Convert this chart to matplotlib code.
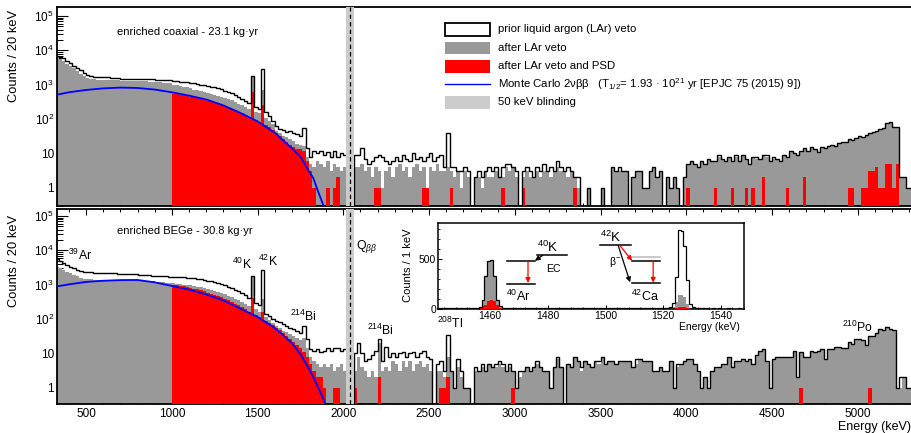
import numpy as np
import matplotlib
matplotlib.use("Agg")
import matplotlib.pyplot as plt
from matplotlib.patches import Rectangle
from matplotlib.lines import Line2D
from matplotlib.ticker import MultipleLocator, LogLocator, FixedLocator, FuncFormatter, NullFormatter

plt.rcParams['font.family'] = ['Liberation Sans', 'DejaVu Sans']
plt.rcParams['mathtext.fontset'] = 'custom'
plt.rcParams['mathtext.rm'] = 'Liberation Sans'
plt.rcParams['mathtext.it'] = 'Liberation Sans:italic'
plt.rcParams['mathtext.bf'] = 'Liberation Sans:bold'

# ---------------- data (20 keV bins, edges 320 ... 5340 keV) ----------------
E_FIRST, E_LAST, BIN_W = 320, 5340, 20
BLIND_LO, BLIND_HI, Q_BB = 2014, 2064, 2039

# --- enriched coaxial ---
coax_prior_lo = [7000, 6500, 5800, 5000, 4300, 3600, 3000, 2600, 2200, 1900,
                 1750, 1700, 1700, 1700, 1680, 1650, 1600, 1550, 1520, 1500,
                 1500, 1500, 1490, 1480, 1480, 1470, 1450, 1430, 1420, 1410,
                 1400, 1400, 1390, 1380]
coax_prior_mid = [1260, 1240, 1220, 1200, 1170, 1140, 1100, 1060, 1010, 960,
                  920, 880, 830, 780, 730, 670, 610, 560, 500, 440,
                  390, 340, 290, 1800, 230, 195, 2880, 160, 120, 90,
                  62, 52, 48, 42, 45, 38, 36, 31, 56, 14,
                  8, 12, 10, 12, 9, 11, 8, 12, 8, 10,
                  9]
coax_prior_hi = [9, 9, 14, 7, 5, 6, 8, 9, 8, 6,
                 5, 6, 8, 6, 9, 7, 6, 10, 7, 8,
                 6, 8, 10, 6, 8, 9, 4, 38, 4, 4,
                 3, 3, 4, 3, 0, 2, 3, 2, 3, 4,
                 3, 4, 2, 4, 5, 5, 4, 3, 0, 3,
                 4, 3, 2, 4, 3, 5, 3, 4, 3, 6,
                 4, 3, 4, 3, 2, 2, 0, 0, 1, 0,
                 0, 0, 1, 0, 0, 4, 3, 4, 3, 3,
                 0, 2, 3, 3, 1, 1, 3, 4, 2, 3,
                 0, 2, 1, 2, 1, 0, 2, 5, 6, 5,
                 4, 6, 5, 7, 6, 6, 9, 7, 6, 8,
                 6, 9, 6, 9, 7, 5, 8, 8, 7, 9,
                 9, 6, 8, 7, 6, 9, 8, 12, 10, 9,
                 12, 14, 12, 15, 13, 11, 15, 14, 16, 18,
                 16, 20, 22, 21, 27, 25, 28, 32, 30, 35,
                 40, 42, 46, 50, 54, 78, 80, 57, 57, 2,
                 2, 1, 1, 1]
coax_lar_lo = [6500, 5600, 4800, 4100, 3500, 3000, 2500, 2100, 1800, 1600,
               1480, 1430, 1400, 1380, 1370, 1360, 1350, 1340, 1330, 1320,
               1310, 1300, 1290, 1280, 1270, 1260, 1250, 1230, 1210, 1190,
               1170, 1150, 1120, 1100]
coax_lar_mid = [1000, 960, 920, 880, 840, 790, 720, 680, 640, 600,
                570, 540, 510, 480, 450, 420, 390, 350, 310, 280,
                250, 225, 200, 1800, 160, 150, 706, 110, 90, 72,
                45, 40, 33, 30, 26, 23, 19, 17, 16, 8,
                5, 4, 6, 5, 4, 6, 3, 5, 4, 3,
                4]
coax_lar_hi = [4, 4, 5, 3, 4, 2, 4, 3, 1, 3,
               4, 2, 4, 5, 3, 4, 2, 4, 5, 3,
               4, 1, 4, 3, 5, 3, 3, 4, 3, 2,
               3, 1, 3, 2, 0, 2, 2, 1, 3, 2,
               2, 3, 2, 2, 4, 3, 4, 2, 0, 2,
               3, 2, 2, 3, 2, 3, 3, 2, 3, 4,
               3, 3, 2, 3, 2, 1, 0, 0, 1, 0,
               0, 0, 1, 0, 0, 4, 3, 3, 3, 3,
               0, 2, 3, 3, 1, 1, 3, 4, 2, 3,
               0, 2, 1, 2, 1, 0, 2, 5, 6, 5,
               4, 6, 5, 7, 6, 6, 8, 7, 6, 8,
               6, 8, 6, 9, 7, 5, 8, 7, 7, 9,
               8, 6, 7, 7, 6, 9, 8, 11, 10, 9,
               12, 14, 12, 15, 13, 10, 15, 13, 16, 18,
               16, 20, 22, 21, 27, 25, 28, 32, 30, 35,
               40, 42, 46, 50, 54, 78, 80, 57, 57, 2,
               2, 1, 1, 1]
coax_psd_mid = [540, 530, 510, 490, 470, 450, 430, 410, 385, 360,
                345, 320, 300, 280, 260, 240, 215, 195, 180, 160,
                145, 128, 115, 600, 95, 82, 256, 68, 58, 48,
                38, 32, 27, 22, 18, 15, 13, 13, 12, 6,
                3, 1, 0, 0, 0, 1, 0, 1, 2, 0,
                0]
coax_psd_hi = {2180: 1, 2200: 1, 2460: 1, 2480: 1, 2620: 1, 2920: 1, 3040: 1,
               3340: 1, 4000: 1, 4160: 1, 4260: 1, 4340: 1, 4380: 1, 4440: 2,
               4580: 1, 4680: 2, 4940: 1, 4960: 1, 5020: 1, 5040: 1, 5060: 3,
               5080: 3, 5100: 4, 5120: 1, 5140: 1, 5160: 5, 5180: 5, 5200: 1,
               5220: 5}

# --- enriched BEGe ---
bege_prior_lo = [5500, 5000, 4400, 3800, 3300, 3000, 2750, 2550, 2400, 2350,
                 2300, 2250, 2200, 2200, 2180, 2220, 2220, 2150, 2100, 2080,
                 2050, 2020, 2000, 1980, 1960, 1930, 1900, 1870, 1840, 1810,
                 1790, 1760, 1740, 1720]
bege_prior_mid = [1700, 1680, 1650, 1620, 1590, 1560, 1520, 1480, 1430, 1380,
                  1320, 1260, 1200, 1120, 1040, 960, 880, 800, 720, 640,
                  560, 490, 420, 1800, 290, 260, 2650, 140, 120, 100,
                  88, 80, 70, 62, 55, 50, 45, 40, 63, 26,
                  13, 12, 13, 11, 12, 14, 12, 14, 14, 12,
                  13]
bege_prior_hi = [10, 20, 10, 6, 7, 9, 12, 26, 6, 15,
                 8, 10, 8, 10, 11, 8, 10, 11, 8, 10,
                 12, 8, 7, 0, 5, 6, 3, 35, 3, 1,
                 7, 3, 1, 1, 0, 4, 3, 5, 3, 5,
                 4, 5, 6, 5, 3, 5, 3, 1, 3, 3,
                 4, 3, 4, 6, 4, 3, 3, 1, 4, 8,
                 4, 0, 5, 4, 8, 6, 4, 6, 5, 4,
                 6, 6, 8, 5, 6, 6, 5, 6,
                 6, 6, 6, 4, 7, 7, 6, 6, 6, 3,
                 3, 4, 3, 3, 6, 1, 5, 5, 6, 7,
                 7, 5, 3, 1, 2, 1, 3, 4, 4, 5,
                 5, 8, 4, 6, 6, 7, 6, 7, 5, 9,
                 12, 13, 6, 1, 7, 8, 8, 8, 8, 8,
                 12, 2, 11, 8, 8, 12, 11, 12, 13, 7,
                 13, 13, 15, 15, 14, 14, 21, 19, 27, 26,
                 25, 18, 32, 32, 40, 50, 48, 60, 52, 48,
                 1, 2, 2, 1, 1, 1]
bege_lar_lo = [3300, 3000, 2700, 2400, 2150, 1950, 1750, 1600, 1500, 1450,
               1420, 1400, 1390, 1390, 1390, 1400, 1400, 1400, 1400, 1400,
               1400, 1390, 1380, 1370, 1360, 1340, 1320, 1290, 1260, 1230,
               1200, 1170, 1140, 1110]
bege_lar_mid = [1100, 1070, 1040, 1010, 980, 950, 910, 870, 830, 790,
                750, 700, 660, 610, 570, 520, 480, 430, 390, 350,
                310, 270, 240, 1800, 190, 165, 380, 112, 92, 78,
                64, 54, 46, 41, 36, 32, 28, 25, 28, 14,
                8, 6, 5, 4, 5, 4, 5, 3, 4, 5,
                3]
bege_lar_hi = [3, 8, 4, 3, 2, 3, 2, 20, 3, 4,
               3, 6, 5, 3, 6, 4, 6, 3, 5, 6,
               4, 5, 3, 0, 3, 3, 2, 8, 3, 1,
               4, 2, 1, 1, 0, 3, 3, 4, 3, 5,
               4, 4, 5, 4, 3, 4, 3, 1, 2, 3,
               4, 3, 4, 5, 4, 3, 3, 1, 4, 7,
               4, 0, 5, 4, 8, 6, 3, 6, 5, 4,
               6, 5, 8, 5, 6, 6, 5, 6,
               6, 6, 6, 4, 5, 7, 6, 6, 6, 3,
               3, 4, 3, 3, 6, 1, 4, 5, 6, 7,
               7, 5, 3, 1, 2, 1, 3, 4, 4, 5,
               5, 8, 4, 6, 6, 7, 6, 7, 5, 9,
               12, 13, 6, 1, 7, 8, 8, 8, 8, 8,
               11, 2, 11, 8, 8, 12, 11, 12, 13, 7,
               13, 13, 15, 15, 14, 14, 21, 19, 27, 26,
               25, 18, 32, 32, 40, 50, 48, 60, 52, 48,
               1, 1, 2, 1, 1, 1]
bege_psd_mid = [980, 950, 920, 890, 850, 810, 770, 730, 690, 640,
                590, 550, 510, 470, 430, 390, 350, 315, 280, 250,
                220, 190, 165, 404, 130, 115, 155, 90, 78, 66,
                56, 47, 39, 33, 27, 22, 18, 14, 11, 8,
                5, 3, 2, 2, 1, 0, 0, 1, 1, 0,
                0]
bege_psd_hi = {2060: 1, 2200: 2, 2560: 1, 2580: 1, 2600: 2, 2980: 1, 4660: 1, 5060: 1}

# --- Monte Carlo 2nbb curves (read points) ---
mc_energy = [330, 400, 500, 600, 700, 800, 900, 1000, 1100, 1200, 1300, 1400,
             1500, 1600, 1700, 1750, 1800, 1825, 1850, 1875, 1900]
mc_coax = [510, 600, 700, 780, 820, 800, 720, 600, 480, 370, 250, 150,
           85, 40, 14, 8, 3.0, 1.9, 0.85, 0.4, 0.2]
mc_bege = [890, 1020, 1200, 1300, 1360, 1370, 1170, 920, 720, 520, 350, 200,
           115, 55, 20, 9.5, 3.5, 2.0, 1.1, 0.6, 0.3]

# --- inset: 1 keV bins from 1442 keV ---
inset_first = 1442
inset_prior = [12, 11, 13, 12, 12, 11, 13, 12, 14, 12,
               13, 12, 14, 15, 20, 95, 330, 475, 490, 330,
               95, 28, 14, 12, 13, 12, 11, 12, 12, 11,
               12, 11, 10, 11, 12, 10, 11, 10, 11, 10,
               10, 11, 10, 9, 10, 10, 9, 10, 9, 10,
               9, 9, 10, 9, 9, 8, 9, 9, 8, 9,
               9, 8, 9, 8, 8, 9, 8, 8, 9, 8,
               8, 8, 9, 8, 8, 9, 9, 10, 12, 15,
               25, 60, 320, 790, 775, 630, 290, 55, 20, 10,
               9, 8, 8, 8, 7, 8, 7, 8, 7, 7,
               8, 7, 7, 7, 8, 7]
inset_lar = [9, 8, 10, 9, 9, 8, 10, 9, 10, 9,
             10, 9, 10, 11, 15, 89, 321, 470, 480, 321,
             89, 23, 10, 9, 9, 9, 8, 9, 9, 8,
             8, 8, 7, 8, 8, 7, 8, 7, 8, 7,
             7, 8, 7, 6, 7, 7, 6, 7, 6, 7,
             6, 6, 7, 6, 6, 5, 6, 6, 5, 6,
             6, 5, 6, 5, 5, 6, 5, 5, 6, 5,
             5, 5, 6, 5, 5, 6, 6, 6, 7, 8,
             10, 20, 70, 140, 140, 120, 50, 15, 8, 6,
             5, 5, 5, 5, 4, 5, 4, 5, 4, 4,
             5, 4, 4, 4, 5, 4]
inset_psd = [6, 5, 6, 6, 5, 6, 6, 5, 6, 6,
             6, 5, 6, 8, 15, 30, 40, 85, 95, 80,
             40, 15, 6, 5, 6, 5, 5, 6, 5, 5,
             5, 5, 4, 5, 5, 4, 5, 4, 5, 4,
             4, 5, 4, 4, 4, 4, 4, 4, 3, 4,
             4, 3, 4, 3, 3, 3, 4, 3, 3, 3,
             3, 3, 3, 3, 3, 3, 3, 3, 3, 3,
             3, 3, 3, 3, 3, 3, 3, 3, 3, 3,
             4, 6, 15, 25, 25, 20, 10, 4, 3, 3,
             3, 2, 3, 2, 2, 3, 2, 2, 2, 2,
             2, 2, 2, 2, 2, 2]

# ---------------- assemble ----------------
edges = np.arange(E_FIRST, E_LAST + 1, BIN_W)
nb = len(edges) - 1
blind = [0, 0]   # 2020-2060 keV blinded


def assemble(lo, mid, hi):
    a = np.array(lo + mid + blind + hi, float)
    assert len(a) == nb, len(a)
    return a


def assemble_psd(mid, hi_dict):
    a = np.zeros(nb)
    a[34:34 + len(mid)] = mid
    for e, c in hi_dict.items():
        a[(e - E_FIRST) // BIN_W] = c
    return a


coax_prior = assemble(coax_prior_lo, coax_prior_mid, coax_prior_hi)
coax_lar = assemble(coax_lar_lo, coax_lar_mid, coax_lar_hi)
coax_psd = assemble_psd(coax_psd_mid, coax_psd_hi)
bege_prior = assemble(bege_prior_lo, bege_prior_mid, bege_prior_hi)
bege_lar = assemble(bege_lar_lo, bege_lar_mid, bege_lar_hi)
bege_psd = assemble_psd(bege_psd_mid, bege_psd_hi)

GRAY = '#999999'
RED = '#ff0000'
BLUE = '#0000ff'
BLINDC = '#cccccc'
FLOOR = 1e-3

fig = plt.figure(figsize=(9.12, 4.33), dpi=100)
ax1 = fig.add_axes([0.0622, 0.5236, 0.9378, 0.4603])
ax2 = fig.add_axes([0.0622, 0.0670, 0.9378, 0.4497])


def pos(a):
    return np.where(a > 0, a, FLOOR)


def yfmt(v, p):
    if abs(v - 1) < 1e-9:
        return '1'
    if abs(v - 10) < 1e-9:
        return '10'
    return r'$10^{%d}$' % int(round(np.log10(v)))


def draw_panel(ax, prior, lar, psd, mc, ylim, top_ticks):
    ax.stairs(pos(lar), edges, fill=True, color=GRAY, baseline=FLOOR, lw=0, zorder=2)
    ax.stairs(pos(psd), edges, fill=True, color=RED, baseline=FLOOR, lw=0, zorder=3)
    ax.stairs(pos(prior), edges, fill=False, color='k', lw=1.0, baseline=FLOOR, zorder=4)
    ax.plot(mc_energy, mc, color=BLUE, lw=1.3, zorder=5)
    ax.axvspan(BLIND_LO, BLIND_HI, color=BLINDC, lw=0, zorder=6)
    ax.axvline(Q_BB, color='k', ls=(0, (3.5, 2.5)), lw=0.9, zorder=7)
    ax.set_yscale('log')
    ax.set_xlim(329, 5316)
    ax.set_ylim(*ylim)
    ax.yaxis.set_major_locator(FixedLocator([1, 10, 1e2, 1e3, 1e4, 1e5]))
    ax.yaxis.set_major_formatter(FuncFormatter(yfmt))
    ax.yaxis.set_minor_locator(LogLocator(base=10, subs=np.arange(2, 10), numticks=30))
    ax.yaxis.set_minor_formatter(NullFormatter())
    ax.xaxis.set_major_locator(MultipleLocator(500))
    ax.xaxis.set_minor_locator(MultipleLocator(100))
    ax.tick_params(axis='y', which='major', direction='in', length=8, width=0.8,
                   labelsize=8.5, pad=2, right=False)
    ax.tick_params(axis='y', which='minor', direction='in', length=4.3, width=0.7, right=False)
    ax.tick_params(axis='x', which='major', direction='in', length=4.3, width=0.8,
                   labelsize=8.5, top=top_ticks, pad=3)
    ax.tick_params(axis='x', which='minor', direction='in', length=2.2, width=0.7, top=top_ticks)
    for s in ['left', 'top', 'bottom']:
        ax.spines[s].set_linewidth(1.3)
    ax.spines['right'].set_visible(False)


draw_panel(ax1, coax_prior, coax_lar, coax_psd, mc_coax, (0.287, 1.83e5), False)
draw_panel(ax2, bege_prior, bege_lar, bege_psd, mc_bege, (0.335, 1.57e5), True)
ax1.tick_params(axis='x', labelbottom=False)

ax1.text(0.0705, 0.875, 'enriched coaxial - 23.1 kg·yr', transform=ax1.transAxes,
         fontsize=8, va='center', ha='left')
ax2.text(0.0705, 0.890, 'enriched BEGe - 30.8 kg·yr', transform=ax2.transAxes,
         fontsize=8, va='center', ha='left')

# legend (top panel)
tr = ax1.transAxes
bx0, bw = 0.454, 0.0526
ax1.add_patch(Rectangle((bx0, 0.8545), bw, 0.0667, transform=tr, facecolor='white',
                        edgecolor='k', lw=1.3, zorder=10))
ax1.add_patch(Rectangle((bx0, 0.7627), bw, 0.0632, transform=tr, facecolor=GRAY,
                        edgecolor='none', zorder=10))
ax1.add_patch(Rectangle((bx0, 0.6703), bw, 0.0638, transform=tr, facecolor=RED,
                        edgecolor='none', zorder=10))
ax1.add_line(Line2D([bx0, bx0 + bw], [0.6121, 0.6121], transform=tr, color=BLUE, lw=1.0, zorder=10))
ax1.add_patch(Rectangle((bx0, 0.4882), bw, 0.0652, transform=tr, facecolor=BLINDC,
                        edgecolor='none', zorder=10))
leg_texts = ['prior liquid argon (LAr) veto', 'after LAr veto', 'after LAr veto and PSD',
             r'Monte Carlo 2νββ   (T$_{1/2}$= 1.93 · 10$^{21}$ yr [EPJC 75 (2015) 9])',
             '50 keV blinding']
for t, yy in zip(leg_texts, [0.888, 0.794, 0.702, 0.612, 0.521]):
    ax1.text(0.516, yy, t, transform=tr, fontsize=8.2, va='center', ha='left', zorder=10)

# isotope labels (bottom panel)
lab_fs = 8.8
ax2.text(397, 5300, r'$^{39}$Ar', fontsize=lab_fs, zorder=9)
ax2.text(1350, 2830, r'$^{40}$K', fontsize=lab_fs, zorder=9)
ax2.text(1505, 3600, r'$^{42}$K', fontsize=lab_fs, zorder=9)
ax2.text(1690, 88, r'$^{214}$Bi', fontsize=lab_fs, zorder=9)
ax2.text(2074, 10700, r'Q$_{ββ}$', fontsize=lab_fs, zorder=9)
ax2.text(2136, 34, r'$^{214}$Bi', fontsize=lab_fs, zorder=9)
ax2.text(2545, 54, r'$^{208}$Tl', fontsize=lab_fs, zorder=9)
ax2.text(4906, 41, r'$^{210}$Po', fontsize=lab_fs, zorder=9)

# axis titles
for ytop in [10, 215]:
    fig.text(14 / 912, 1 - ytop / 433, 'Counts / 20 keV', rotation=90, fontsize=9.3,
             ha='center', va='top')
fig.text(0.999, 1 - 427 / 433, 'Energy (keV)', fontsize=9, ha='right', va='center')

# ---------------- inset ----------------
axi = fig.add_axes([0.4806, 0.2857, 0.3352, 0.2000], zorder=20)
axi.set_facecolor('white')
iedges = np.arange(inset_first, inset_first + len(inset_prior) + 1)
axi.stairs(inset_lar, iedges, fill=True, color=GRAY, baseline=0, lw=0, zorder=2)
axi.stairs(inset_psd, iedges, fill=True, color=RED, baseline=0, lw=0, zorder=3)
axi.stairs(inset_prior, iedges, fill=False, color='k', lw=0.9, baseline=0, zorder=4)
axi.set_xlim(1442, 1548)
axi.set_ylim(0, 860)
axi.xaxis.set_major_locator(MultipleLocator(20))
axi.xaxis.set_minor_locator(MultipleLocator(4))
axi.yaxis.set_major_locator(FixedLocator([0, 500]))
axi.yaxis.set_minor_locator(MultipleLocator(100))
axi.tick_params(which='major', direction='in', length=3.2, width=0.7, labelsize=7.5, pad=1.5)
axi.tick_params(which='minor', direction='in', length=1.6, width=0.6)
for s in axi.spines.values():
    s.set_linewidth(1.1)

# decay schemes
lk = dict(color='k', lw=1.1, zorder=6)
axi.plot([1476.1, 1486.6], [543, 543], **lk)
axi.plot([1465.7, 1475.7], [477, 477], **lk)
axi.plot([1465.7, 1475.7], [255, 255], **lk)
axi.plot([1498.1, 1508.7], [639, 639], **lk)
axi.plot([1508.7, 1519.0], [520, 520], color='#bbbbbb', lw=1.1, zorder=5)
axi.plot([1509.0, 1519.0], [477, 477], **lk)
axi.plot([1509.0, 1519.0], [262, 262], **lk)
arr = dict(arrowstyle='-|>', mutation_scale=7, shrinkA=0, shrinkB=0)
axi.annotate('', xy=(1475.5, 482), xytext=(1478.2, 536),
             arrowprops=dict(color='k', lw=0.9, **arr), zorder=7)
axi.annotate('', xy=(1473.1, 262), xytext=(1473.1, 472),
             arrowprops=dict(color='red', lw=0.9, **arr), zorder=7)
axi.annotate('', xy=(1508.5, 268), xytext=(1504.4, 632),
             arrowprops=dict(color='k', lw=0.9, **arr), zorder=7)
axi.annotate('', xy=(1509.2, 482), xytext=(1505.0, 632),
             arrowprops=dict(color='red', lw=0.9, **arr), zorder=7)
axi.annotate('', xy=(1516.5, 264), xytext=(1516.5, 472),
             arrowprops=dict(color='red', lw=0.9, **arr), zorder=7)
axi.text(1476.3, 569, r'$^{40}$K', fontsize=9.5, zorder=8)
axi.text(1479.5, 404, 'EC', fontsize=7.6, va='center', zorder=8)
axi.text(1465.4, 83, r'$^{40}$Ar', fontsize=9, zorder=8)
axi.text(1498.1, 669, r'$^{42}$K', fontsize=9.5, zorder=8)
axi.text(1501.3, 437, r'β$^{-}$', fontsize=7.6, zorder=8)
axi.text(1508.7, 83, r'$^{42}$Ca', fontsize=9, zorder=8)

fig.text(408 / 912, 1 - 265 / 433, 'Counts / 1 keV', rotation=90, fontsize=8,
         ha='center', va='center', zorder=21)
fig.text(740 / 912, 1 - 327 / 433, 'Energy (keV)', fontsize=7.5, ha='right', va='center',
         zorder=21)

fig.savefig('out.png', dpi=100)
